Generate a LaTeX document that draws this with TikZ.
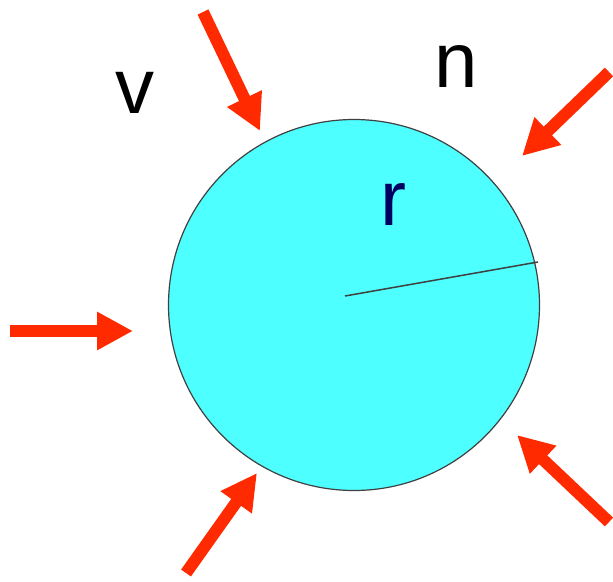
\documentclass[tikz,border=0pt]{standalone}
\usepackage{fontspec}
\setmainfont{Liberation Sans}
\usetikzlibrary{arrows.meta}
\definecolor{arrred}{HTML}{FF2A00}
\definecolor{ballcyan}{HTML}{4DFFFF}
\definecolor{navy}{HTML}{000060}
\begin{document}
\begin{tikzpicture}[x=1pt,y=-1pt,
  push/.style={draw=arrred,line width=12pt,-{Triangle[length=36pt,width=36pt]}},
  lbl/.style={inner sep=0pt,anchor=base,font=\fontsize{78}{78}\selectfont}]
\useasboundingbox (0,0) rectangle (613,581);
\node[circle,draw=black!75,line width=1.2pt,fill=ballcyan,minimum size=371pt,inner sep=0pt] (c) at (354,305) {};
\coordinate (rc) at (345,296);
\coordinate (re) at (538,262);
\draw[black!75,line width=1.5pt] (rc) -- (re);
\node[lbl] (v) at (135,113) {v};
\node[lbl] (n) at (456,87) {n};
\node[lbl,text=navy] (r) at (393,225) {r};
\coordinate (a1s) at (203,12); \coordinate (a1e) at (260,131);
\coordinate (a2s) at (609,72); \coordinate (a2e) at (522,156);
\coordinate (a3s) at (10,331); \coordinate (a3e) at (133,331);
\coordinate (a4s) at (186,573); \coordinate (a4e) at (257,473);
\coordinate (a5s) at (609,522); \coordinate (a5e) at (517,435);
\draw[push] (a1s) -- (a1e);
\draw[push] (a2s) -- (a2e);
\draw[push] (a3s) -- (a3e);
\draw[push] (a4s) -- (a4e);
\draw[push] (a5s) -- (a5e);
\end{tikzpicture}
\end{document}
